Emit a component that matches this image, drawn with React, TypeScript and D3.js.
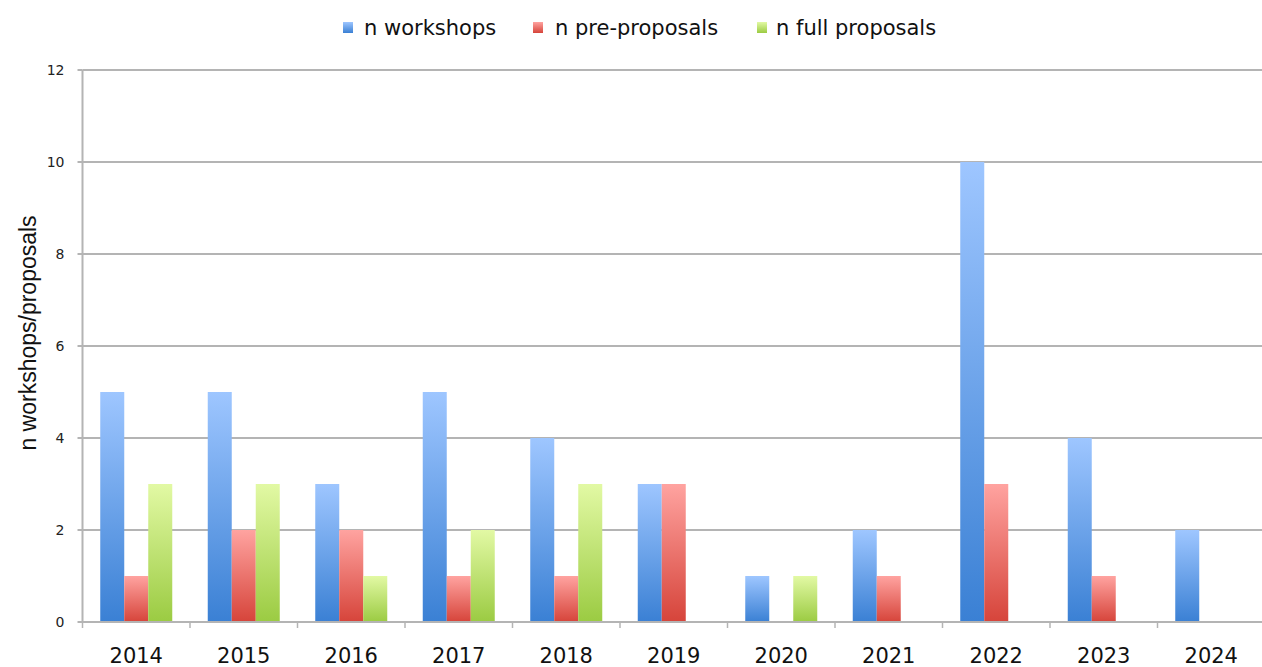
import React from "react";
import * as d3 from "d3";

const years = ["2014", "2015", "2016", "2017", "2018", "2019", "2020", "2021", "2022", "2023", "2024"];
const workshops = [5, 5, 3, 5, 4, 3, 1, 2, 10, 4, 2];
const preProposals = [1, 2, 2, 1, 1, 3, 0, 1, 3, 1, 0];
const fullProposals = [3, 3, 1, 2, 3, 0, 1, 0, 0, 0, 0];
const seriesNames = ["n workshops", "n pre-proposals", "n full proposals"];
const yTicks = [0, 2, 4, 6, 8, 10, 12];

const gradients = [
  { id: "gBlue", top: "#9ec6ff", bottom: "#3a80d4" },
  { id: "gRed", top: "#ffa3a0", bottom: "#d6443a" },
  { id: "gGreen", top: "#e2f9a4", bottom: "#9bcb42" },
];

export default function App() {
  const W = 1262, H = 667;
  const left = 82.5, top = 70, bottom = 622;
  const band = 107.5;
  const x = d3.scaleBand<string>().domain(years).range([left, left + band * years.length]).paddingInner(0).paddingOuter(0);
  const y = d3.scaleLinear().domain([0, 12]).range([bottom, top]);
  const series = [workshops, preProposals, fullProposals];
  const barW = 24;
  const groupW = barW * 3;
  const font = "'DejaVu Sans', Verdana, sans-serif";

  const legendItems = [
    { x: 343, textX: 364 },
    { x: 533, textX: 555 },
    { x: 757, textX: 776 },
  ];

  return (
    <svg width={W} height={H} style={{ position: "absolute", left: 0, top: 0, background: "#fff" }}>
      <defs>
        {gradients.map((g) => (
          <linearGradient key={g.id} id={g.id} x1="0" y1="0" x2="0" y2="1">
            <stop offset="0%" stopColor={g.top} />
            <stop offset="100%" stopColor={g.bottom} />
          </linearGradient>
        ))}
      </defs>
      {/* gridlines */}
      {yTicks.map((t) => (
        <g key={t}>
          {t > 0 && (
            <line x1={left} x2={W} y1={y(t)} y2={y(t)} stroke="#b4b4b4" strokeWidth={2} />
          )}
          <line x1={left - 5} x2={left} y1={y(t)} y2={y(t)} stroke="#b4b4b4" strokeWidth={2} />
          <text x={left - 18} y={y(t)} dy="0.35em" textAnchor="end" fontFamily={font} fontSize={14} fill="#222">
            {t}
          </text>
        </g>
      ))}
      {/* bars */}
      {years.map((yr, i) => {
        const x0 = (x(yr) as number) + (band - groupW) / 2;
        return series.map((s, k) =>
          s[i] > 0 ? (
            <rect
              key={yr + k}
              x={x0 + k * barW}
              y={y(s[i])}
              width={barW}
              height={bottom - y(s[i])}
              fill={`url(#${gradients[k].id})`}
            />
          ) : null
        );
      })}
      {/* axes */}
      <line x1={left} x2={left} y1={top} y2={bottom} stroke="#b4b4b4" strokeWidth={2} />
      <line x1={left} x2={W} y1={bottom} y2={bottom} stroke="#b4b4b4" strokeWidth={2} />
      {years.map((yr) => (
        <line key={"t" + yr} x1={(x(yr) as number)} x2={(x(yr) as number)} y1={bottom} y2={bottom + 6} stroke="#b4b4b4" strokeWidth={1.5} />
      ))}
      {years.map((yr) => (
        <text key={"l" + yr} x={(x(yr) as number) + band / 2} y={663} textAnchor="middle" fontFamily={font} fontSize={21} fill="#111">
          {yr}
        </text>
      ))}
      {/* y title */}
      <text
        transform={`translate(36, 333) rotate(-90)`}
        textAnchor="middle"
        fontFamily="'Liberation Sans', Arial, sans-serif"
        fontSize={23}
        fill="#111"
      >
        n workshops/proposals
      </text>
      {/* legend */}
      {seriesNames.map((n, k) => (
        <g key={n}>
          <rect x={legendItems[k].x} y={22} width={10} height={11} fill={`url(#${gradients[k].id})`} />
          <text x={legendItems[k].textX} y={35} fontFamily={font} fontSize={21} fill="#111">
            {n}
          </text>
        </g>
      ))}
    </svg>
  );
}
